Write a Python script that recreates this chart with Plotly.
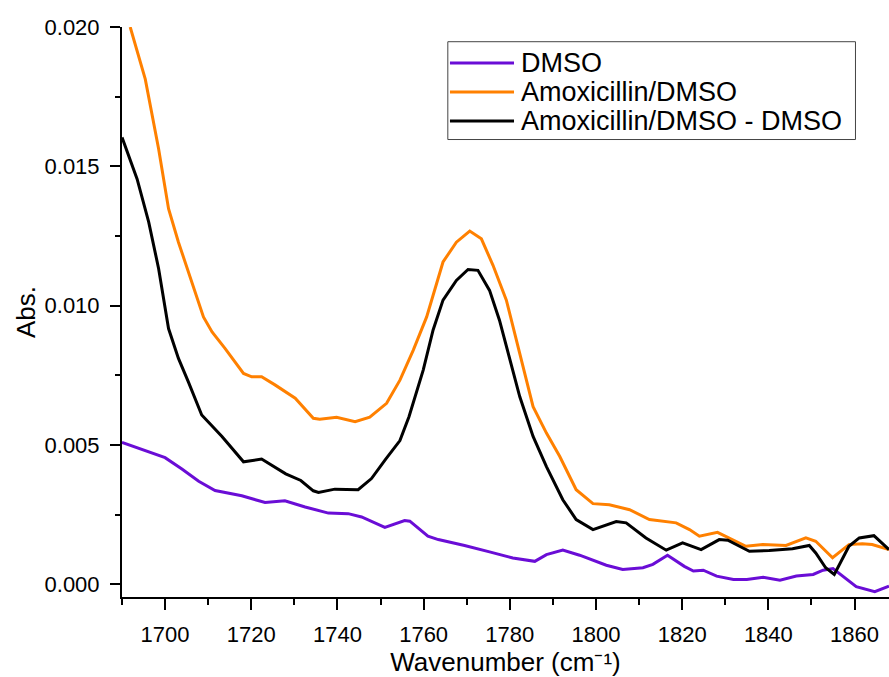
import plotly.graph_objects as go

# DMSO (purple)
dmso_x = [1690, 1694.6, 1700, 1703.9, 1707.8, 1711.6, 1717.8, 1723.2, 1727.8, 1732.5,
          1737.9, 1742.5, 1745.6, 1751, 1755.6, 1756.8, 1761, 1763.4, 1769.5, 1775.3,
          1780.7, 1785.8, 1788.5, 1792.3, 1796.2, 1802.4, 1806.2, 1810.9, 1813.2, 1816.6,
          1820.5, 1822.6, 1824.9, 1828, 1831.9, 1835, 1838.8, 1842.7, 1846.5, 1850.4,
          1852.7, 1855, 1857.3, 1860.4, 1864.7, 1868]
dmso_y = [0.0051, 0.00485, 0.00455, 0.00414, 0.0037, 0.00337, 0.00318, 0.00294, 0.003, 0.00278,
          0.00256, 0.00254, 0.00242, 0.00205, 0.00229, 0.00227, 0.00173, 0.00161, 0.0014, 0.00117,
          0.00095, 0.00083, 0.00107, 0.00123, 0.00105, 0.00069, 0.00054, 0.0006, 0.00072, 0.00105,
          0.00065, 0.00048, 0.00051, 0.0003, 0.00018, 0.00018, 0.00026, 0.00015, 0.0003, 0.00036,
          0.00051, 0.00057, 0.0003, -0.00008, -0.00026, -0.00006]

# Amoxicillin/DMSO (orange)
amox_x = [1691.9, 1695.4, 1698.5, 1700.8, 1703.1, 1706.2, 1708.9, 1710.9, 1713.9, 1718.2,
          1720.1, 1722.4, 1725.5, 1730.2, 1734.4, 1735.9, 1739.8, 1744.1, 1747.5, 1751.4,
          1754.5, 1757.6, 1760.7, 1764.5, 1767.6, 1770.7, 1773.4, 1776.1, 1779.2, 1782.3,
          1785.4, 1788.5, 1791.6, 1795.4, 1799.3, 1803.1, 1807.8, 1812.4, 1818.6, 1821.7,
          1824, 1828.2, 1834.8, 1838.7, 1844.1, 1848.7, 1851, 1854.9, 1858.7, 1861.8,
          1864.1, 1868]
amox_y = [0.0200, 0.01813, 0.01562, 0.01348, 0.01228, 0.01085, 0.0096, 0.00906, 0.00847, 0.00757,
          0.00745, 0.00745, 0.00716, 0.00668, 0.00596, 0.00593, 0.006, 0.00584, 0.006, 0.0065,
          0.00733, 0.00841, 0.0096, 0.01157, 0.01228, 0.01268, 0.0124, 0.01145, 0.0102, 0.00829,
          0.00638, 0.00543, 0.00459, 0.0034, 0.0029, 0.00286, 0.00268, 0.00233, 0.00221, 0.00197,
          0.00173, 0.00187, 0.00137, 0.00143, 0.0014, 0.00167, 0.00155, 0.00096, 0.00143, 0.00146,
          0.00143, 0.00125]

# Amoxicillin/DMSO - DMSO (black)
diff_x = [1690, 1693.5, 1696.2, 1698.5, 1700.8, 1703.1, 1705.4, 1708.5, 1713.2, 1718.2,
          1722.4, 1728, 1731.5, 1734.4, 1735.6, 1739.4, 1744.8, 1747.9, 1751.2, 1754.5,
          1756.6, 1759.9, 1762.2, 1764.5, 1767.6, 1770.3, 1772.6, 1775.3, 1777.6, 1779.2,
          1782.3, 1785.4, 1788.5, 1792.3, 1795.4, 1799.3, 1804.7, 1807, 1811.6, 1816.3,
          1820.1, 1824.4, 1828.6, 1830.6, 1835.6, 1840.2, 1845.6, 1849.5, 1851, 1853.3,
          1855.3, 1858.7, 1861.1, 1864.5, 1868]
diff_y = [0.01604, 0.01455, 0.013, 0.01133, 0.00918, 0.00811, 0.00727, 0.00608, 0.00531, 0.0044,
          0.0045, 0.00397, 0.00373, 0.00336, 0.0033, 0.00342, 0.0034, 0.0038, 0.0045, 0.00516,
          0.00602, 0.00769, 0.00913, 0.0102, 0.01091, 0.0113, 0.01127, 0.01055, 0.00948, 0.00853,
          0.00674, 0.00531, 0.00423, 0.00304, 0.00233, 0.00197, 0.00226, 0.00221, 0.00167, 0.00123,
          0.00149, 0.00125, 0.00161, 0.00159, 0.00119, 0.00122, 0.00128, 0.0014, 0.00113, 0.0006,
          0.00036, 0.00137, 0.00167, 0.00175, 0.00125]

series_names = ["DMSO", "Amoxicillin/DMSO", "Amoxicillin/DMSO - DMSO"]
series_colors = ["#6A0DD6", "#FF8000", "#000000"]
x_ticks = [1700, 1720, 1740, 1760, 1780, 1800, 1820, 1840, 1860]
y_ticks = [0.000, 0.005, 0.010, 0.015, 0.020]

FONT = "Arial, Liberation Sans, sans-serif"

fig = go.Figure()
for xs, ys, name, col in zip([dmso_x, amox_x, diff_x], [dmso_y, amox_y, diff_y],
                             series_names, series_colors):
    fig.add_trace(go.Scatter(x=xs, y=ys, mode="lines", name=name,
                             line=dict(color=col, width=3), showlegend=False))

# Legend drawn as a framed box (Origin style: long line samples, tight rows)
leg_x0, leg_x1 = 0.4248, 0.9563
leg_y0, leg_y1 = 0.8026, 0.9742
row_y = [0.9368, 0.8860, 0.8351]
fig.add_shape(type="rect", xref="paper", yref="paper", x0=leg_x0, x1=leg_x1,
              y0=leg_y0, y1=leg_y1, line=dict(color="#444444", width=1),
              fillcolor="white", layer="above")
for name, col, ry in zip(series_names, series_colors, row_y):
    fig.add_shape(type="line", xref="paper", yref="paper", x0=0.4276, x1=0.5111,
                  y0=ry, y1=ry, line=dict(color=col, width=3), layer="above")
    fig.add_annotation(xref="paper", yref="paper", x=0.5170, y=ry, text=name,
                       showarrow=False, xanchor="left", yanchor="middle",
                       font=dict(size=27, family=FONT, color="black"))

fig.update_layout(
    width=889, height=677,
    margin=dict(l=122, r=0, t=27, b=80),
    paper_bgcolor="white", plot_bgcolor="white",
    font=dict(family=FONT, color="#000000"),
    showlegend=False,
)
fig.update_xaxes(
    range=[1690, 1868], tickvals=x_ticks, ticktext=[str(v) for v in x_ticks],
    ticks="outside", ticklen=11, tickwidth=1.5, tickcolor="black",
    minor=dict(dtick=10, tick0=1690, ticks="outside", ticklen=6, tickwidth=1.5, tickcolor="black"),
    showline=True, linecolor="black", linewidth=2, mirror=False,
    showgrid=False, zeroline=False, ticklabelstandoff=6,
    tickfont=dict(size=22, family=FONT),
    title=dict(text="Wavenumber (cm\u207b\u00b9)", font=dict(size=26, family=FONT), standoff=7),
)
fig.update_yaxes(
    range=[-0.00045, 0.0200], tickvals=y_ticks, ticktext=["%.3f" % v for v in y_ticks],
    ticks="outside", ticklen=10, tickwidth=1.5, tickcolor="black",
    minor=dict(dtick=0.0025, tick0=0, ticks="outside", ticklen=5, tickwidth=1.5, tickcolor="black"),
    showline=True, linecolor="black", linewidth=2, mirror=False,
    showgrid=False, zeroline=False, ticklabelstandoff=6,
    tickfont=dict(size=22, family=FONT),
    title=dict(text="Abs.", font=dict(size=26, family=FONT), standoff=1),
)

fig.write_html("out.html")
